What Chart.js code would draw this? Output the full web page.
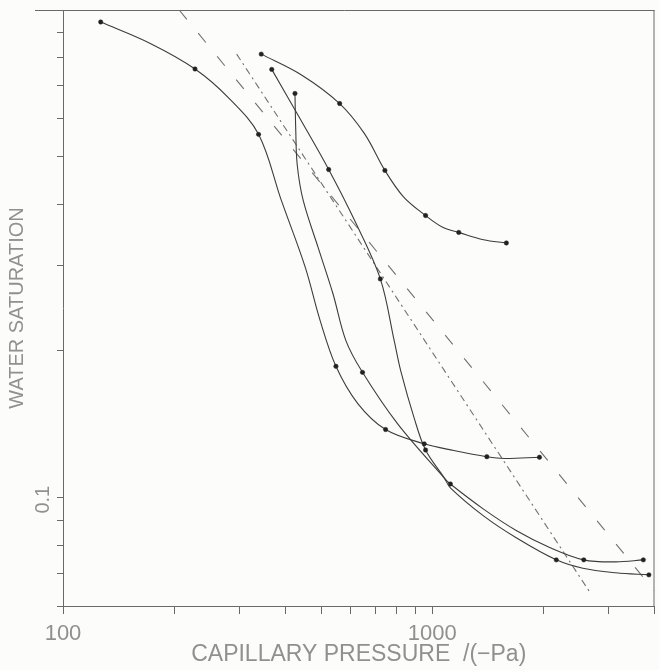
<!DOCTYPE html>
<html>
<head>
<meta charset="utf-8">
<title>Capillary pressure</title>
<script src="https://cdn.jsdelivr.net/npm/chart.js@4/dist/chart.umd.min.js"></script>
<style>
  html, body { margin: 0; padding: 0; background: #fcfcfb; }
  #wrap { width: 659px; height: 670px; }
</style>
</head>
<body>
<div id="wrap"><canvas id="chart" width="659" height="670"></canvas></div>
<script>
// axis ticks (log scales)
const xTicks = [100, 200, 300, 400, 500, 600, 700, 800, 900, 1000, 2000, 3000, 4000];
const xLabelled = [100, 1000];
const yTicks = [0.06, 0.07, 0.08, 0.09, 0.1, 0.2, 0.3, 0.4, 0.5, 0.6, 0.7, 0.8, 0.9, 1];
const yLabelled = [0.1];

// measured curves: pressure (Pa) / water saturation, marks = indices drawn with a symbol
const curve1X = [126.5, 171.3, 227.8, 281.2, 338.6, 390.3, 452.9, 496.9, 548.6, 628.7, 747.7, 951.7, 1144, 1406, 1571, 1952];
const curve1Y = [0.945, 0.856, 0.757, 0.660, 0.556, 0.407, 0.297, 0.231, 0.186, 0.156, 0.138, 0.129, 0.125, 0.1214, 0.1204, 0.1211];
const curve1Marks = [0, 2, 4, 8, 10, 11, 13, 15];

const curve2X = [344.3, 442.6, 561.4, 655.4, 744.5, 836, 959.4, 1064, 1180, 1377, 1588];
const curve2Y = [0.812, 0.736, 0.643, 0.558, 0.469, 0.414, 0.379, 0.359, 0.350, 0.338, 0.333];
const curve2Marks = [0, 2, 4, 6, 8, 10];

const curve3X = [367.6, 438.3, 524.3, 616.0, 723.6, 788.9, 821.8, 892.8, 959.4, 1077, 1120, 1377, 1693, 2168, 2558, 3143, 3862];
const curve3Y = [0.7555, 0.599, 0.471, 0.3705, 0.281, 0.210, 0.182, 0.146, 0.1253, 0.110, 0.1048, 0.0918, 0.0827, 0.0746, 0.0717, 0.0702, 0.0695];
const curve3Marks = [0, 2, 4, 8, 13, 16];

const curve4X = [424.9, 427.0, 431.0, 447.3, 490.8, 538.5, 583.7, 647.4, 805.2, 1077, 1120, 1377, 1693, 2080, 2573, 3143, 3731];
const curve4Y = [0.6745, 0.567, 0.4805, 0.407, 0.326, 0.262, 0.210, 0.1808, 0.1419, 0.1099, 0.1067, 0.0948, 0.0856, 0.0791, 0.0746, 0.0739, 0.0746];
const curve4Marks = [0, 7, 10, 14, 16];

// straight reference lines
const line1X = [206.4, 4000];
const line1Y = [1.0, 0.0644];
const line2X = [295.4, 2692];
const line2Y = [0.812, 0.0635];

const INK = '#3c3c3c';
const TEXT = '#909090';
const AXIS = '#6a6a6a';

function pts(xs, ys) {
  return xs.map((x, i) => ({ x: x, y: ys[i] }));
}

function curve(xs, ys, marks) {
  return {
    data: pts(xs, ys),
    borderColor: INK,
    borderWidth: 1.1,
    tension: 0.35,
    pointRadius: ctx => marks.includes(ctx.dataIndex) ? 2.2 : 0,
    pointBackgroundColor: '#222',
    pointBorderColor: '#222',
    pointBorderWidth: 0.5
  };
}

function dashed(xs, ys, dash) {
  return {
    data: pts(xs, ys),
    borderColor: '#707070',
    borderWidth: 1.1,
    borderDash: dash,
    pointRadius: 0,
    tension: 0
  };
}

// top and right frame lines (top one runs a bit past the y axis like the original)
const frame = {
  id: 'frame',
  afterDraw(chart) {
    const { ctx, chartArea: a } = chart;
    ctx.save();
    ctx.strokeStyle = AXIS;
    ctx.lineWidth = 1;
    ctx.beginPath();
    ctx.moveTo(a.left - 28, a.top + 0.5);
    ctx.lineTo(a.right, a.top + 0.5);
    ctx.moveTo(a.right - 0.5, a.top);
    ctx.lineTo(a.right - 0.5, a.bottom);
    ctx.stroke();
    ctx.restore();
  }
};

new Chart(document.getElementById('chart'), {
  type: 'line',
  data: {
    datasets: [
      curve(curve1X, curve1Y, curve1Marks),
      curve(curve2X, curve2Y, curve2Marks),
      curve(curve3X, curve3Y, curve3Marks),
      curve(curve4X, curve4Y, curve4Marks),
      dashed(line1X, line1Y, [12, 18]),
      dashed(line2X, line2Y, [7, 4, 2, 4])
    ]
  },
  options: {
    responsive: false,
    animation: false,
    layout: { padding: { top: 10, right: 1, left: 0, bottom: 0 } },
    plugins: { legend: { display: false }, tooltip: { enabled: false } },
    scales: {
      x: {
        type: 'logarithmic',
        position: 'bottom',
        min: 100,
        max: 4000,
        afterBuildTicks: s => { s.ticks = xTicks.map(v => ({ value: v })); },
        afterFit: s => { s.height = 64; s.paddingRight = 0; },
        ticks: {
          autoSkip: false,
          maxRotation: 0,
          padding: 7,
          color: TEXT,
          font: { family: 'Liberation Sans', size: 22 },
          callback: v => xLabelled.includes(v) ? String(v) : ''
        },
        grid: { drawOnChartArea: false, drawTicks: true, tickLength: 8, tickColor: AXIS },
        border: { display: true, color: AXIS, width: 1 },
        title: {
          display: true,
          text: 'CAPILLARY PRESSURE  /(\u2212Pa)',
          color: TEXT,
          font: { family: 'Liberation Sans', size: 23 },
          padding: { top: 0, bottom: 2 }
        }
      },
      y: {
        type: 'logarithmic',
        position: 'left',
        min: 0.06,
        max: 1,
        afterBuildTicks: s => { s.ticks = yTicks.map(v => ({ value: v })); },
        afterFit: s => { s.width = 63; s.paddingTop = 0; s.paddingBottom = 0; },
        ticks: {
          autoSkip: false,
          minRotation: 90,
          maxRotation: 90,
          padding: 14,
          labelOffset: -12,
          color: TEXT,
          font: { family: 'Liberation Sans', size: 20 },
          callback: v => yLabelled.includes(v) ? String(v) : ''
        },
        grid: { drawOnChartArea: false, drawTicks: true, tickLength: 6, tickColor: AXIS },
        border: { display: true, color: AXIS, width: 1 },
        title: {
          display: true,
          text: 'WATER SATURATION',
          color: TEXT,
          font: { family: 'Liberation Sans', size: 20 },
          padding: { top: 5, bottom: 0 }
        }
      }
    }
  },
  plugins: [frame]
});
</script>
</body>
</html>
